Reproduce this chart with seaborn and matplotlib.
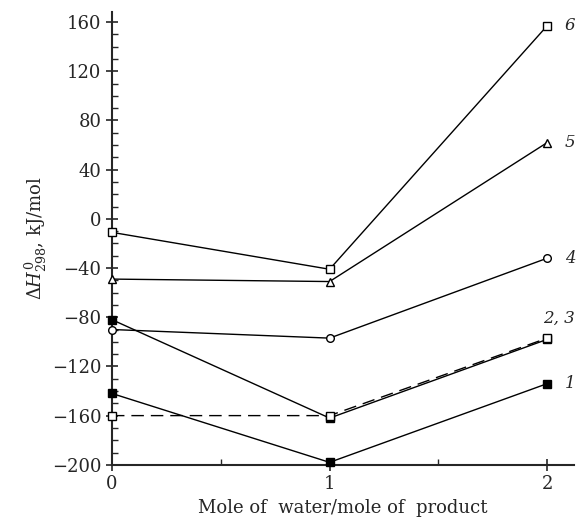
import numpy as np
import matplotlib
matplotlib.use("Agg")
import matplotlib.pyplot as plt
import seaborn as sns
from matplotlib.ticker import MultipleLocator

# --- data ---
water = [0, 1, 2]
s1 = [-142, -198, -134]
s2 = [-82, -162, -98]
s3 = [-160, -160, -97]
s4 = [-90, -97, -32]
s5 = [-49, -51, 62]
s6 = [-11, -41, 157]

series = [
    # values, marker, filled, dash pattern
    (s1, "s", True, None),
    (s2, "s", True, None),
    (s3, "s", False, (9, 5)),
    (s4, "o", False, None),
    (s5, "^", False, None),
    (s6, "s", False, None),
]

sns.set_style("ticks")
plt.rcParams["font.family"] = ["DejaVu Serif"]
plt.rcParams["mathtext.fontset"] = "dejavuserif"

fig = plt.figure(figsize=(5.8, 5.3), dpi=100)
ax = fig.add_axes([0.193, 0.123, 0.797, 0.854])

for vals, mk, filled, dash in series:
    line = sns.lineplot(x=water, y=vals, ax=ax, color="black", linewidth=1.0,
                        marker=mk, markersize=6 if mk != "o" else 5.5,
                        markerfacecolor="black" if filled else "white",
                        markeredgecolor="black", markeredgewidth=1.0,
                        clip_on=False, zorder=3).lines[-1]
    if dash is not None:
        line.set_dashes(dash)

# curve labels
ax.text(2.08, 157, "6", fontsize=12, style="italic", va="center")
ax.text(2.08, 62, "5", fontsize=12, style="italic", va="center")
ax.text(2.08, -32, "4", fontsize=12, style="italic", va="center")
ax.text(1.98, -81, "2, 3", fontsize=12, style="italic", va="center", ha="left")
ax.text(2.08, -134, "1", fontsize=12, style="italic", va="center")

ax.set_xlim(0, 2.124)
ax.set_ylim(-200, 168)
ax.set_xticks([0, 1, 2])
ax.set_yticks(np.arange(-200, 161, 40))
ax.xaxis.set_minor_locator(MultipleLocator(0.5))
ax.yaxis.set_minor_locator(MultipleLocator(10))
ax.tick_params(which="major", direction="inout", length=8, width=1.2, labelsize=13)
ax.tick_params(which="minor", direction="in", length=4, width=1.0)
ax.set_yticklabels(["\u2212200", "\u2212160", "\u2212120", "\u221280", "\u221240",
                    "0", "40", "80", "120", "160"])

sns.despine(ax=ax)
for sp in ["left", "bottom"]:
    ax.spines[sp].set_linewidth(1.5)

ax.set_xlabel("Mole of  water/mole of  product", fontsize=13, labelpad=4)
ax.set_ylabel(r"$\Delta H^{0}_{298}$, kJ/mol", fontsize=13, labelpad=2)

fig.savefig("out.png", dpi=100)
